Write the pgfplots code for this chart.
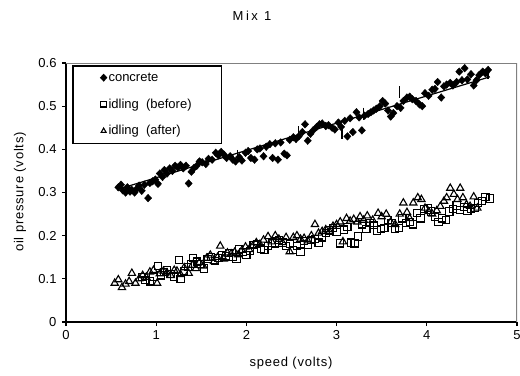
\documentclass[border=0pt]{standalone}
\usepackage{fontspec}
\setmainfont{Liberation Sans}
\usepackage{pgfplots}
\pgfplotsset{compat=1.18}
\pgfplotsset{myleg/.style={legend image code/.code={\draw[##1, mark size=2.9bp] plot coordinates {(0bp,0bp)};}}}
\newcommand{\lblfont}{\fontsize{13bp}{15bp}\selectfont}
\begin{document}
\begin{tikzpicture}
\useasboundingbox (0,0) rectangle (520bp,376bp);
\begin{axis}[
  at={(66bp,54bp)}, anchor=south west,
  scale only axis, width=451bp, height=259bp,
  xmin=0, xmax=5, ymin=0, ymax=0.6,
  xtick={0,1,2,3,4,5}, xticklabels={0,1,2,3,4,5},
  ytick={0,0.1,0.2,0.3,0.4,0.5,0.6},
  yticklabels={0,0.1,0.2,0.3,0.4,0.5,0.6},
  axis x line*=bottom, axis y line*=left,
  axis line style={line width=1.5bp, black},
  tick align=outside, major tick length=4bp,
  tick style={line width=1.2bp, black},
  ticklabel style={font=\lblfont},
  yticklabel style={xshift=-2bp},
  xticklabel style={yshift=-1bp},
  /pgf/number format/assume math mode=true,
  legend cell align=left,
  legend style={at={(rel axis cs:0,1)}, anchor=north west, xshift=6bp, yshift=-2bp,
    draw=black, line width=1.5bp, fill=white, inner xsep=28bp, inner ysep=5bp,
    row sep=12bp, font=\lblfont,
    /tikz/every even column/.append style={column sep=3bp}},
]
% trend line
\addplot[black, line width=1.2bp, forget plot] coordinates {(0.6,0.309) (4.7,0.568)};
% concrete
\addplot[only marks, mark=diamond*, mark size=3.8bp, mark options={xscale=1.25}, black, myleg] table {
x y
0.58 0.312
0.61 0.318
0.63 0.305
0.66 0.300
0.68 0.312
0.71 0.302
0.73 0.306
0.76 0.300
0.79 0.310
0.81 0.316
0.84 0.304
0.87 0.318
0.91 0.287
0.93 0.322
0.96 0.326
0.99 0.330
1.02 0.320
1.04 0.344
1.07 0.336
1.09 0.352
1.12 0.344
1.15 0.356
1.18 0.350
1.21 0.362
1.24 0.358
1.27 0.364
1.30 0.356
1.33 0.362
1.36 0.321
1.39 0.348
1.42 0.357
1.45 0.362
1.48 0.372
1.51 0.370
1.55 0.366
1.58 0.378
1.62 0.376
1.66 0.392
1.69 0.386
1.72 0.394
1.75 0.388
1.78 0.380
1.82 0.384
1.85 0.376
1.88 0.372
1.92 0.382
1.95 0.374
1.99 0.392
2.02 0.396
2.05 0.380
2.09 0.376
2.12 0.400
2.15 0.402
2.19 0.384
2.22 0.406
2.26 0.412
2.29 0.380
2.32 0.414
2.35 0.376
2.38 0.416
2.42 0.390
2.45 0.386
2.48 0.422
2.52 0.428
2.55 0.424
2.58 0.430
2.62 0.440
2.65 0.458
2.68 0.420
2.71 0.436
2.74 0.444
2.78 0.452
2.81 0.458
2.84 0.460
2.88 0.454
2.91 0.456
2.95 0.450
2.98 0.446
3.02 0.462
3.05 0.452
3.09 0.466
3.12 0.430
3.15 0.472
3.18 0.440
3.22 0.486
3.25 0.474
3.28 0.444
3.31 0.478
3.35 0.482
3.38 0.486
3.41 0.490
3.44 0.494
3.48 0.500
3.51 0.512
3.54 0.506
3.57 0.490
3.60 0.476
3.63 0.484
3.67 0.500
3.71 0.496
3.74 0.512
3.78 0.520
3.81 0.522
3.84 0.516
3.88 0.512
3.92 0.504
3.95 0.500
3.98 0.530
4.02 0.524
4.06 0.538
4.09 0.540
4.12 0.556
4.16 0.520
4.19 0.546
4.22 0.550
4.26 0.554
4.29 0.548
4.33 0.556
4.36 0.580
4.39 0.560
4.42 0.588
4.45 0.562
4.49 0.574
4.52 0.548
4.55 0.560
4.58 0.572
4.62 0.580
4.65 0.576
4.68 0.584
};
\addlegendentry{concrete}
% idling (before)
\addplot[only marks, mark=square, mark size=3.6bp, black, line width=1.1bp, fill=white, myleg] table {
x y
0.84 0.105
0.88 0.098
0.93 0.094
0.97 0.104
1.02 0.130
1.05 0.108
1.09 0.116
1.12 0.120
1.16 0.112
1.20 0.104
1.25 0.144
1.27 0.100
1.31 0.118
1.35 0.128
1.39 0.134
1.41 0.148
1.45 0.140
1.49 0.134
1.53 0.124
1.57 0.146
1.61 0.150
1.65 0.142
1.69 0.148
1.73 0.156
1.77 0.152
1.81 0.160
1.85 0.150
1.89 0.146
1.92 0.168
1.96 0.162
2.00 0.156
2.04 0.164
2.08 0.178
2.12 0.180
2.16 0.170
2.20 0.166
2.24 0.176
2.28 0.184
2.32 0.182
2.36 0.190
2.40 0.184
2.44 0.176
2.48 0.180
2.52 0.166
2.56 0.176
2.60 0.163
2.64 0.188
2.68 0.178
2.72 0.190
2.76 0.192
2.80 0.184
2.84 0.196
2.88 0.206
2.92 0.212
2.96 0.218
3.00 0.208
3.04 0.182
3.08 0.214
3.12 0.220
3.16 0.184
3.20 0.182
3.24 0.198
3.28 0.226
3.33 0.216
3.37 0.230
3.41 0.224
3.45 0.212
3.49 0.216
3.53 0.218
3.57 0.236
3.61 0.230
3.65 0.216
3.69 0.218
3.73 0.240
3.77 0.230
3.81 0.232
3.85 0.226
3.89 0.252
3.93 0.240
3.97 0.262
4.01 0.264
4.05 0.256
4.09 0.244
4.13 0.232
4.17 0.240
4.21 0.236
4.25 0.256
4.29 0.262
4.33 0.270
4.37 0.260
4.41 0.266
4.45 0.258
4.49 0.262
4.53 0.264
4.57 0.276
4.61 0.280
4.65 0.290
4.70 0.286
};
\addlegendentry{idling\ \ (before)}
% idling (after)
\addplot[only marks, mark=triangle, mark size=4.2bp, black, line width=1.1bp, myleg] table {
x y
0.54 0.090
0.58 0.098
0.62 0.080
0.66 0.088
0.70 0.094
0.73 0.113
0.77 0.090
0.81 0.100
0.85 0.108
0.89 0.104
0.93 0.116
0.97 0.120
1.01 0.090
1.04 0.112
1.08 0.118
1.12 0.114
1.16 0.108
1.20 0.120
1.23 0.118
1.27 0.110
1.31 0.126
1.36 0.113
1.40 0.132
1.44 0.124
1.48 0.138
1.52 0.130
1.56 0.148
1.60 0.155
1.64 0.140
1.68 0.150
1.71 0.176
1.75 0.146
1.79 0.160
1.83 0.158
1.87 0.162
1.91 0.156
1.95 0.166
1.99 0.174
2.03 0.168
2.07 0.176
2.11 0.184
2.15 0.180
2.19 0.190
2.24 0.198
2.28 0.186
2.32 0.200
2.36 0.192
2.40 0.184
2.44 0.196
2.48 0.163
2.52 0.196
2.56 0.200
2.60 0.192
2.64 0.194
2.68 0.188
2.72 0.200
2.76 0.226
2.80 0.206
2.84 0.210
2.88 0.214
2.92 0.210
2.96 0.222
3.00 0.226
3.04 0.232
3.07 0.186
3.11 0.240
3.15 0.234
3.19 0.238
3.23 0.232
3.26 0.244
3.30 0.236
3.34 0.246
3.40 0.236
3.46 0.252
3.50 0.244
3.55 0.250
3.60 0.232
3.65 0.226
3.70 0.250
3.74 0.276
3.78 0.254
3.81 0.240
3.85 0.276
3.90 0.288
3.94 0.284
3.98 0.264
4.02 0.256
4.06 0.250
4.11 0.258
4.15 0.268
4.19 0.280
4.22 0.288
4.26 0.310
4.30 0.296
4.34 0.284
4.37 0.310
4.40 0.288
4.44 0.272
4.48 0.268
4.52 0.290
4.56 0.264
};
\addlegendentry{idling\ \ (after)}
% dash markers
\addplot[only marks, mark=|, mark size=6bp, black, line width=1.5bp, forget plot] coordinates {
(1.90,0.385) (2.58,0.440) (3.06,0.437) (3.30,0.483) (3.70,0.532) (4.68,0.578)};
\draw[black!50, line width=1.5bp] (rel axis cs:0,1) -- (rel axis cs:1,1) -- (rel axis cs:1,0);
\end{axis}
\node[font=\lblfont\addfontfeature{LetterSpace=20}] at (252bp,360bp) {Mix 1};
\node[font=\lblfont\addfontfeature{LetterSpace=6}, rotate=90] at (20bp,184bp) {oil pressure (volts)};
\node[font=\lblfont\addfontfeature{LetterSpace=6}] at (291bp,13bp) {speed (volts)};
\end{tikzpicture}
\end{document}
